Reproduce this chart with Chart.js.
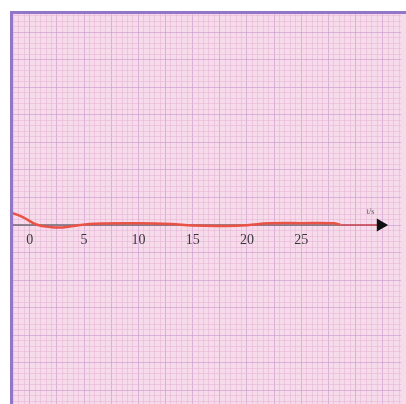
<!DOCTYPE html>
<html>
<head>
<meta charset="utf-8">
<script src="https://cdn.jsdelivr.net/npm/chart.js@4.4.1/dist/chart.umd.min.js"></script>
<style>
  html, body { margin:0; padding:0; background:#fff; }
  #wrap { position:relative; width:406px; height:404px; }
  #paper { position:absolute; left:12px; top:13px; right:0; bottom:0; background:#f6dcea; }
  #frame { position:absolute; left:10px; top:11px; right:0; bottom:0; border-left:3px solid #9276c8; border-top:3px solid #9276c8; pointer-events:none; }
  canvas { position:absolute; left:0; top:0; }
</style>
</head>
<body>
<div id="wrap">
  <div id="paper"></div>
  <canvas id="ecg" width="406" height="404"></canvas>
  <div id="frame"></div>
</div>
<script>
// ====== datos ======
const tiempo  = [-1.64, -0.6, 0.6, 2, 3, 4.5, 6, 10, 13, 15, 18, 20, 22, 25, 28, 28.6];
const senal   = [1.1, 0.7, 0.05, -0.2, -0.22, -0.02, 0.12, 0.15, 0.08, -0.05, -0.08, -0.02, 0.15, 0.17, 0.15, 0.02];
const ejeT    = [-1.64, 28.6, 32.3];
const xTicks  = [0, 5, 10, 15, 20, 25];
const xLabel  = 't/s';

const X_MIN = -1.64, X_MAX = 34.2, Y_MIN = -16.27, Y_MAX = 19.27;

const isMajor = (v) => Math.abs(v / 2.5 - Math.round(v / 2.5)) < 1e-6;
const gridColor = (ctx) => isMajor(ctx.tick.value) ? 'rgba(200,150,205,0.6)' : 'rgba(232,182,214,0.6)';

// etiqueta del eje junto a la flecha
const axisLabel = {
  id: 'axisLabel',
  afterDatasetsDraw(c){
    const x = c.scales.x, y = c.scales.y, g = c.ctx;
    g.save();
    g.font = '8px "Liberation Serif", serif';
    g.fillStyle = '#555';
    g.textAlign = 'center';
    g.fillText(xLabel, x.getPixelForValue(ejeT[2]) - 10, y.getPixelForValue(0) - 11);
    g.restore();
  }
};

new Chart(document.getElementById('ecg'), {
  type: 'line',
  data: { datasets: [
    { label: 'eje', data: ejeT.map(t => ({ x: t, y: 0 })), borderWidth: 1.5,
      segment: { borderColor: (s) => s.p0DataIndex === 0 ? '#6f6670' : '#c23a48' },
      pointRadius: [0, 0, 6], pointStyle: 'triangle', pointRotation: 90,
      pointBackgroundColor: '#111', pointBorderColor: '#111', order: 2 },
    { label: 'señal', data: tiempo.map((t, i) => ({ x: t, y: senal[i] })),
      borderColor: '#ea5246', borderWidth: 2.5, tension: 0.4, pointRadius: 0, order: 1 }
  ]},
  options: {
    responsive: false, animation: false, parsing: false,
    layout: { autoPadding: false, padding: { left: 12, top: 13, right: 0, bottom: 0 } },
    plugins: { legend: { display: false }, tooltip: { enabled: false } },
    scales: {
      x: { type: 'linear', min: X_MIN, max: X_MAX, position: { y: 0 },
           border: { display: false },
           grid: { color: gridColor, lineWidth: 1, drawTicks: false },
           ticks: { stepSize: 0.5, includeBounds: false, autoSkip: false, maxRotation: 0, padding: 7,
                    color: '#3a363c', font: { family: '"Liberation Serif", serif', size: 14 },
                    callback: (v) => xTicks.includes(v) ? String(v) : '' } },
      y: { type: 'linear', min: Y_MIN, max: Y_MAX, display: true,
           border: { display: false },
           grid: { color: gridColor, lineWidth: 1, drawTicks: false },
           ticks: { display: false, stepSize: 0.5, includeBounds: false } }
    }
  },
  plugins: [axisLabel]
});
</script>
</body>
</html>
